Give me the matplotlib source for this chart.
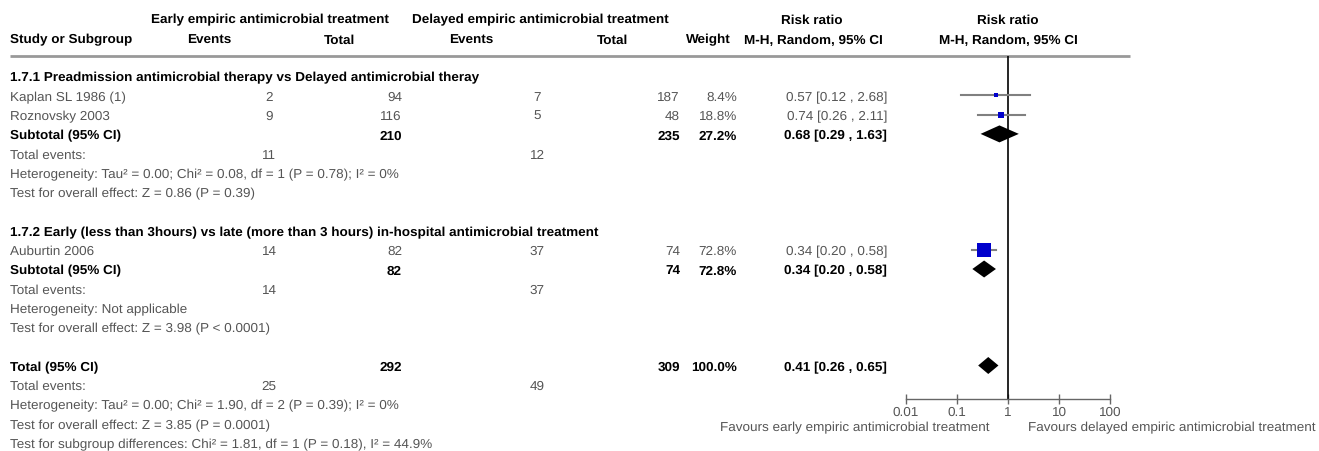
import numpy as np
import matplotlib.pyplot as plt

plt.rcParams['font.family'] = ['Liberation Sans', 'DejaVu Sans']
plt.rcParams['text.hinting'] = 'no_hinting'

# study level data
studies = ["Kaplan SL 1986 (1)", "Roznovsky 2003", "Auburtin 2006"]
study_group = [0, 0, 1]
early_events = [2, 9, 14]
early_total = [94, 116, 82]
delayed_events = [7, 5, 37]
delayed_total = [187, 48, 74]
weights = [8.4, 18.8, 72.8]
rr = [0.57, 0.74, 0.34]
ci_low = [0.12, 0.26, 0.20]
ci_high = [2.68, 2.11, 0.58]

# subgroups
group_titles = ["1.7.1 Preadmission antimicrobial therapy vs Delayed antimicrobial theray",
                "1.7.2 Early (less than 3hours) vs late (more than 3 hours) in-hospital antimicrobial treatment"]
sub_early_total = [210, 82]
sub_delayed_total = [235, 74]
sub_early_events = [11, 14]
sub_delayed_events = [12, 37]
sub_weight = [27.2, 72.8]
sub_rr = [0.68, 0.34]
sub_low = [0.29, 0.20]
sub_high = [1.63, 0.58]
sub_het = ["Heterogeneity: Tau² = 0.00; Chi² = 0.08, df = 1 (P = 0.78); I² = 0%",
           "Heterogeneity: Not applicable"]
sub_test = ["Test for overall effect: Z = 0.86 (P = 0.39)",
            "Test for overall effect: Z = 3.98 (P < 0.0001)"]

# overall
tot_early_total, tot_delayed_total = 292, 309
tot_early_events, tot_delayed_events = 25, 49
tot_weight = 100.0
tot_rr, tot_low, tot_high = 0.41, 0.26, 0.65
tot_notes = ["Heterogeneity: Tau² = 0.00; Chi² = 1.90, df = 2 (P = 0.39); I² = 0%",
             "Test for overall effect: Z = 3.85 (P = 0.0001)",
             "Test for subgroup differences: Chi² = 1.81, df = 1 (P = 0.18), I² = 44.9%"]

axis_ticks = [0.01, 0.1, 1, 10, 100]

W, H = 1319, 452
fig = plt.figure(figsize=(W / 100, H / 100), dpi=100)
fig.patch.set_facecolor('white')

# text layer in pixel coordinates
tx = fig.add_axes([0, 0, 1, 1])
tx.set_xlim(0, W)
tx.set_ylim(H, 0)
tx.axis('off')

GREY = '#555555'
FS = 9.7
ROW0, DY = 77, 19.3


def row_y(i):
    return ROW0 + DY * i


def put(x, y, s, ha='left', bold=False, color=None):
    # y is the row centre; shift to the baseline so digits and letters line up
    tx.text(x, y + 4.5, s, ha=ha, va='baseline', fontsize=FS,
            fontweight='bold' if bold else 'normal',
            color=color or ('black' if bold else GREY))


def ci_text(r, lo, hi):
    return f"{r:.2f} [{lo:.2f} , {hi:.2f}]"


# column header
put(270, 19, "Early empiric antimicrobial treatment", ha='center', bold=True)
put(540, 19, "Delayed empiric antimicrobial treatment", ha='center', bold=True)
put(812, 19, "Risk ratio", ha='center', bold=True)
put(1008, 19, "Risk ratio", ha='center', bold=True)
put(10, 39, "Study or Subgroup", bold=True)
for x, s in [(209, "Events"), (339, "Total"), (471, "Events"), (612, "Total"),
             (708, "Weight"), (813, "M-H, Random, 95% CI"), (1008, "M-H, Random, 95% CI")]:
    put(x, 39, s, ha='center', bold=True)
tx.plot([10, 1130], [57, 57], color='#999999', lw=2, solid_capstyle='butt')

# columns: events centre, total right edge, weight right edge, CI right edge
X_EE, X_ET, X_DE, X_DT, X_W, X_CI = 269, 402, 537, 680, 737, 887

rows_study = {}
rows_sub = []
r = 0
for g in range(2):
    put(10, row_y(r), group_titles[g], bold=True)
    r += 1
    for i in range(len(studies)):
        if study_group[i] != g:
            continue
        y = row_y(r)
        rows_study[i] = r
        put(10, y, studies[i])
        put(X_EE, y, str(early_events[i]), ha='center')
        put(X_ET, y, str(early_total[i]), ha='right')
        put(X_DE, y, str(delayed_events[i]), ha='center')
        put(X_DT, y, str(delayed_total[i]), ha='right')
        put(X_W, y, f"{weights[i]:.1f}%", ha='right')
        put(X_CI, y, ci_text(rr[i], ci_low[i], ci_high[i]), ha='right')
        r += 1
    y = row_y(r)
    rows_sub.append(r)
    put(10, y, "Subtotal (95% CI)", bold=True)
    put(X_ET, y, str(sub_early_total[g]), ha='right', bold=True)
    put(X_DT, y, str(sub_delayed_total[g]), ha='right', bold=True)
    put(X_W, y, f"{sub_weight[g]:.1f}%", ha='right', bold=True)
    put(X_CI, y, ci_text(sub_rr[g], sub_low[g], sub_high[g]), ha='right', bold=True)
    r += 1
    put(10, row_y(r), "Total events:")
    put(X_EE, row_y(r), str(sub_early_events[g]), ha='center')
    put(X_DE, row_y(r), str(sub_delayed_events[g]), ha='center')
    r += 1
    put(10, row_y(r), sub_het[g])
    r += 1
    put(10, row_y(r), sub_test[g])
    r += 2

row_tot = r
y = row_y(r)
put(10, y, "Total (95% CI)", bold=True)
put(X_ET, y, str(tot_early_total), ha='right', bold=True)
put(X_DT, y, str(tot_delayed_total), ha='right', bold=True)
put(X_W, y, f"{tot_weight:.1f}%", ha='right', bold=True)
put(X_CI, y, ci_text(tot_rr, tot_low, tot_high), ha='right', bold=True)
r += 1
put(10, row_y(r), "Total events:")
put(X_EE, row_y(r), str(tot_early_events), ha='center')
put(X_DE, row_y(r), str(tot_delayed_events), ha='center')
r += 1
for note in tot_notes:
    put(10, row_y(r), note)
    r += 1

# forest panel, log scale
x0, x1 = 906, 1110
y_top, y_axis = 57, 400
ax = fig.add_axes([x0 / W, (H - y_axis) / H, (x1 - x0) / W, (y_axis - y_top) / H])
ax.set_xscale('log')
ax.set_xlim(0.01, 100)
ax.set_ylim((y_axis - ROW0) / DY, (y_top - ROW0) / DY)
ax.patch.set_alpha(0)
for s in ['top', 'right', 'left']:
    ax.spines[s].set_visible(False)
ax.spines['bottom'].set_color('#666666')
ax.spines['bottom'].set_linewidth(1)
ax.set_yticks([])
ax.set_xticks(axis_ticks)
ax.set_xticklabels(['0.01', '0.1', '1', '10', '100'])
ax.xaxis.set_minor_locator(plt.NullLocator())
ax.tick_params(axis='x', direction='inout', length=7, width=1, color='#666666',
               labelsize=FS, labelcolor=GREY, pad=1)
ax.axvline(1, color='black', lw=1.2)

for i, rw in rows_study.items():
    ax.plot([ci_low[i], ci_high[i]], [rw, rw], color='#808080', lw=1.5, zorder=2)
    side_px = 1.6 * np.sqrt(weights[i])
    ax.plot(rr[i], rw, marker='s', ms=side_px * 0.72, color='#0000CC',
            mec='#0000CC', mew=0, zorder=3)


def diamond(r0, lo, mid, hi, half=0.44):
    ax.fill([lo, mid, hi, mid], [r0, r0 - half, r0, r0 + half], color='black', lw=0, zorder=3)


for g in range(2):
    diamond(rows_sub[g], sub_low[g], sub_rr[g], sub_high[g])
diamond(row_tot, tot_low, tot_rr, tot_high)

put(990, 427, "Favours early empiric antimicrobial treatment", ha='right')
put(1028, 427, "Favours delayed empiric antimicrobial treatment", ha='left')

fig.savefig('out.png', dpi=100, facecolor='white')
